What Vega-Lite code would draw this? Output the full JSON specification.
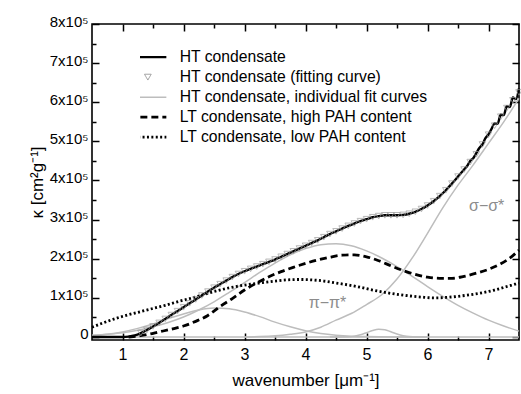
{
  "$schema": "https://vega.github.io/schema/vega-lite/v6.json",
  "width": 427,
  "height": 316,
  "autosize": {"type": "none"},
  "padding": {"left": 92, "top": 24, "right": 2, "bottom": 54},
  "config": {
    "view": {"stroke": "black", "strokeWidth": 1.6},
    "font": "Liberation Sans",
    "axis": {"grid": false, "domain": true, "domainOpacity": 0, "ticks": true, "tickOpacity": 1, "tickColor": "black", "tickWidth": 1.5, "labelColor": "black", "titleColor": "black", "labelFont": "Liberation Sans", "titleFont": "Liberation Sans", "titleFontWeight": "normal", "zindex": 1}
  },
  "datasets": {
    "curves": [
      {"x": 0.5, "v": 0, "s": "HT condensate, individual fit curves", "c": "z"},
      {"x": 7.5, "v": 0, "s": "HT condensate, individual fit curves", "c": "z"},
      {"x": 0.5, "v": 4500, "s": "HT condensate, individual fit curves", "c": "g1"},
      {"x": 0.75, "v": 7300, "s": "HT condensate, individual fit curves", "c": "g1"},
      {"x": 1.0, "v": 11000, "s": "HT condensate, individual fit curves", "c": "g1"},
      {"x": 1.25, "v": 17500, "s": "HT condensate, individual fit curves", "c": "g1"},
      {"x": 1.5, "v": 26000, "s": "HT condensate, individual fit curves", "c": "g1"},
      {"x": 1.75, "v": 37000, "s": "HT condensate, individual fit curves", "c": "g1"},
      {"x": 2.0, "v": 51000, "s": "HT condensate, individual fit curves", "c": "g1"},
      {"x": 2.25, "v": 69000, "s": "HT condensate, individual fit curves", "c": "g1"},
      {"x": 2.5, "v": 90000, "s": "HT condensate, individual fit curves", "c": "g1"},
      {"x": 2.75, "v": 114000, "s": "HT condensate, individual fit curves", "c": "g1"},
      {"x": 3.0, "v": 139000, "s": "HT condensate, individual fit curves", "c": "g1"},
      {"x": 3.25, "v": 165000, "s": "HT condensate, individual fit curves", "c": "g1"},
      {"x": 3.5, "v": 189000, "s": "HT condensate, individual fit curves", "c": "g1"},
      {"x": 3.75, "v": 210000, "s": "HT condensate, individual fit curves", "c": "g1"},
      {"x": 4.0, "v": 226000, "s": "HT condensate, individual fit curves", "c": "g1"},
      {"x": 4.25, "v": 236000, "s": "HT condensate, individual fit curves", "c": "g1"},
      {"x": 4.5, "v": 238000, "s": "HT condensate, individual fit curves", "c": "g1"},
      {"x": 4.75, "v": 233000, "s": "HT condensate, individual fit curves", "c": "g1"},
      {"x": 5.0, "v": 220000, "s": "HT condensate, individual fit curves", "c": "g1"},
      {"x": 5.25, "v": 202000, "s": "HT condensate, individual fit curves", "c": "g1"},
      {"x": 5.5, "v": 180000, "s": "HT condensate, individual fit curves", "c": "g1"},
      {"x": 5.75, "v": 155000, "s": "HT condensate, individual fit curves", "c": "g1"},
      {"x": 6.0, "v": 129000, "s": "HT condensate, individual fit curves", "c": "g1"},
      {"x": 6.25, "v": 104000, "s": "HT condensate, individual fit curves", "c": "g1"},
      {"x": 6.5, "v": 81000, "s": "HT condensate, individual fit curves", "c": "g1"},
      {"x": 6.75, "v": 61000, "s": "HT condensate, individual fit curves", "c": "g1"},
      {"x": 7.0, "v": 43000, "s": "HT condensate, individual fit curves", "c": "g1"},
      {"x": 7.25, "v": 28000, "s": "HT condensate, individual fit curves", "c": "g1"},
      {"x": 7.5, "v": 15000, "s": "HT condensate, individual fit curves", "c": "g1"},
      {"x": 0.5, "v": 3500, "s": "HT condensate, individual fit curves", "c": "g2"},
      {"x": 0.75, "v": 7000, "s": "HT condensate, individual fit curves", "c": "g2"},
      {"x": 1.0, "v": 13000, "s": "HT condensate, individual fit curves", "c": "g2"},
      {"x": 1.25, "v": 22000, "s": "HT condensate, individual fit curves", "c": "g2"},
      {"x": 1.5, "v": 33000, "s": "HT condensate, individual fit curves", "c": "g2"},
      {"x": 1.75, "v": 47000, "s": "HT condensate, individual fit curves", "c": "g2"},
      {"x": 2.0, "v": 59000, "s": "HT condensate, individual fit curves", "c": "g2"},
      {"x": 2.25, "v": 69000, "s": "HT condensate, individual fit curves", "c": "g2"},
      {"x": 2.5, "v": 74000, "s": "HT condensate, individual fit curves", "c": "g2"},
      {"x": 2.75, "v": 72000, "s": "HT condensate, individual fit curves", "c": "g2"},
      {"x": 3.0, "v": 64000, "s": "HT condensate, individual fit curves", "c": "g2"},
      {"x": 3.25, "v": 52000, "s": "HT condensate, individual fit curves", "c": "g2"},
      {"x": 3.5, "v": 38000, "s": "HT condensate, individual fit curves", "c": "g2"},
      {"x": 3.75, "v": 26000, "s": "HT condensate, individual fit curves", "c": "g2"},
      {"x": 4.0, "v": 16000, "s": "HT condensate, individual fit curves", "c": "g2"},
      {"x": 4.25, "v": 9000, "s": "HT condensate, individual fit curves", "c": "g2"},
      {"x": 4.5, "v": 4700, "s": "HT condensate, individual fit curves", "c": "g2"},
      {"x": 4.75, "v": 2200, "s": "HT condensate, individual fit curves", "c": "g2"},
      {"x": 5.0, "v": 1000, "s": "HT condensate, individual fit curves", "c": "g2"},
      {"x": 5.5, "v": 200, "s": "HT condensate, individual fit curves", "c": "g2"},
      {"x": 6.0, "v": 0, "s": "HT condensate, individual fit curves", "c": "g2"},
      {"x": 4.4, "v": 0, "s": "HT condensate, individual fit curves", "c": "g3"},
      {"x": 4.7, "v": 700, "s": "HT condensate, individual fit curves", "c": "g3"},
      {"x": 4.8, "v": 2200, "s": "HT condensate, individual fit curves", "c": "g3"},
      {"x": 4.9, "v": 5600, "s": "HT condensate, individual fit curves", "c": "g3"},
      {"x": 5.0, "v": 11000, "s": "HT condensate, individual fit curves", "c": "g3"},
      {"x": 5.1, "v": 16700, "s": "HT condensate, individual fit curves", "c": "g3"},
      {"x": 5.2, "v": 20000, "s": "HT condensate, individual fit curves", "c": "g3"},
      {"x": 5.3, "v": 18500, "s": "HT condensate, individual fit curves", "c": "g3"},
      {"x": 5.4, "v": 13300, "s": "HT condensate, individual fit curves", "c": "g3"},
      {"x": 5.5, "v": 7500, "s": "HT condensate, individual fit curves", "c": "g3"},
      {"x": 5.6, "v": 3300, "s": "HT condensate, individual fit curves", "c": "g3"},
      {"x": 5.7, "v": 1100, "s": "HT condensate, individual fit curves", "c": "g3"},
      {"x": 6.0, "v": 0, "s": "HT condensate, individual fit curves", "c": "g3"},
      {"x": 3.0, "v": 0, "s": "HT condensate, individual fit curves", "c": "s"},
      {"x": 3.25, "v": 1000, "s": "HT condensate, individual fit curves", "c": "s"},
      {"x": 3.5, "v": 3000, "s": "HT condensate, individual fit curves", "c": "s"},
      {"x": 3.75, "v": 7000, "s": "HT condensate, individual fit curves", "c": "s"},
      {"x": 4.0, "v": 13000, "s": "HT condensate, individual fit curves", "c": "s"},
      {"x": 4.25, "v": 25000, "s": "HT condensate, individual fit curves", "c": "s"},
      {"x": 4.5, "v": 43000, "s": "HT condensate, individual fit curves", "c": "s"},
      {"x": 4.75, "v": 60000, "s": "HT condensate, individual fit curves", "c": "s"},
      {"x": 5.0, "v": 83000, "s": "HT condensate, individual fit curves", "c": "s"},
      {"x": 5.25, "v": 108000, "s": "HT condensate, individual fit curves", "c": "s"},
      {"x": 5.5, "v": 148000, "s": "HT condensate, individual fit curves", "c": "s"},
      {"x": 5.75, "v": 202000, "s": "HT condensate, individual fit curves", "c": "s"},
      {"x": 6.0, "v": 265000, "s": "HT condensate, individual fit curves", "c": "s"},
      {"x": 6.25, "v": 330000, "s": "HT condensate, individual fit curves", "c": "s"},
      {"x": 6.5, "v": 388000, "s": "HT condensate, individual fit curves", "c": "s"},
      {"x": 6.75, "v": 440000, "s": "HT condensate, individual fit curves", "c": "s"},
      {"x": 7.0, "v": 495000, "s": "HT condensate, individual fit curves", "c": "s"},
      {"x": 7.25, "v": 550000, "s": "HT condensate, individual fit curves", "c": "s"},
      {"x": 7.5, "v": 610000, "s": "HT condensate, individual fit curves", "c": "s"},
      {"x": 0.5, "v": 25000, "s": "LT condensate, low PAH content", "c": "e"},
      {"x": 0.7, "v": 37000, "s": "LT condensate, low PAH content", "c": "e"},
      {"x": 0.9, "v": 48000, "s": "LT condensate, low PAH content", "c": "e"},
      {"x": 1.1, "v": 57000, "s": "LT condensate, low PAH content", "c": "e"},
      {"x": 1.3, "v": 65000, "s": "LT condensate, low PAH content", "c": "e"},
      {"x": 1.5, "v": 73000, "s": "LT condensate, low PAH content", "c": "e"},
      {"x": 1.7, "v": 81000, "s": "LT condensate, low PAH content", "c": "e"},
      {"x": 1.9, "v": 90000, "s": "LT condensate, low PAH content", "c": "e"},
      {"x": 2.1, "v": 98000, "s": "LT condensate, low PAH content", "c": "e"},
      {"x": 2.3, "v": 107000, "s": "LT condensate, low PAH content", "c": "e"},
      {"x": 2.5, "v": 116000, "s": "LT condensate, low PAH content", "c": "e"},
      {"x": 2.7, "v": 124000, "s": "LT condensate, low PAH content", "c": "e"},
      {"x": 2.9, "v": 130000, "s": "LT condensate, low PAH content", "c": "e"},
      {"x": 3.1, "v": 135000, "s": "LT condensate, low PAH content", "c": "e"},
      {"x": 3.3, "v": 139000, "s": "LT condensate, low PAH content", "c": "e"},
      {"x": 3.5, "v": 143000, "s": "LT condensate, low PAH content", "c": "e"},
      {"x": 3.7, "v": 146000, "s": "LT condensate, low PAH content", "c": "e"},
      {"x": 3.9, "v": 147000, "s": "LT condensate, low PAH content", "c": "e"},
      {"x": 4.1, "v": 146000, "s": "LT condensate, low PAH content", "c": "e"},
      {"x": 4.3, "v": 143000, "s": "LT condensate, low PAH content", "c": "e"},
      {"x": 4.5, "v": 138000, "s": "LT condensate, low PAH content", "c": "e"},
      {"x": 4.7, "v": 133000, "s": "LT condensate, low PAH content", "c": "e"},
      {"x": 4.9, "v": 127000, "s": "LT condensate, low PAH content", "c": "e"},
      {"x": 5.1, "v": 120000, "s": "LT condensate, low PAH content", "c": "e"},
      {"x": 5.3, "v": 114000, "s": "LT condensate, low PAH content", "c": "e"},
      {"x": 5.5, "v": 109000, "s": "LT condensate, low PAH content", "c": "e"},
      {"x": 5.7, "v": 105000, "s": "LT condensate, low PAH content", "c": "e"},
      {"x": 5.9, "v": 102000, "s": "LT condensate, low PAH content", "c": "e"},
      {"x": 6.1, "v": 100000, "s": "LT condensate, low PAH content", "c": "e"},
      {"x": 6.3, "v": 101000, "s": "LT condensate, low PAH content", "c": "e"},
      {"x": 6.5, "v": 104000, "s": "LT condensate, low PAH content", "c": "e"},
      {"x": 6.7, "v": 108000, "s": "LT condensate, low PAH content", "c": "e"},
      {"x": 6.9, "v": 113000, "s": "LT condensate, low PAH content", "c": "e"},
      {"x": 7.1, "v": 120000, "s": "LT condensate, low PAH content", "c": "e"},
      {"x": 7.3, "v": 129000, "s": "LT condensate, low PAH content", "c": "e"},
      {"x": 7.5, "v": 138000, "s": "LT condensate, low PAH content", "c": "e"},
      {"x": 1.1, "v": 0, "s": "LT condensate, high PAH content", "c": "d"},
      {"x": 1.4, "v": 6000, "s": "LT condensate, high PAH content", "c": "d"},
      {"x": 1.6, "v": 13000, "s": "LT condensate, high PAH content", "c": "d"},
      {"x": 1.8, "v": 20000, "s": "LT condensate, high PAH content", "c": "d"},
      {"x": 2.0, "v": 28000, "s": "LT condensate, high PAH content", "c": "d"},
      {"x": 2.2, "v": 40000, "s": "LT condensate, high PAH content", "c": "d"},
      {"x": 2.4, "v": 55000, "s": "LT condensate, high PAH content", "c": "d"},
      {"x": 2.6, "v": 78000, "s": "LT condensate, high PAH content", "c": "d"},
      {"x": 2.8, "v": 98000, "s": "LT condensate, high PAH content", "c": "d"},
      {"x": 3.0, "v": 120000, "s": "LT condensate, high PAH content", "c": "d"},
      {"x": 3.2, "v": 138000, "s": "LT condensate, high PAH content", "c": "d"},
      {"x": 3.4, "v": 154000, "s": "LT condensate, high PAH content", "c": "d"},
      {"x": 3.6, "v": 167000, "s": "LT condensate, high PAH content", "c": "d"},
      {"x": 3.8, "v": 178000, "s": "LT condensate, high PAH content", "c": "d"},
      {"x": 4.0, "v": 188000, "s": "LT condensate, high PAH content", "c": "d"},
      {"x": 4.2, "v": 197000, "s": "LT condensate, high PAH content", "c": "d"},
      {"x": 4.4, "v": 204000, "s": "LT condensate, high PAH content", "c": "d"},
      {"x": 4.6, "v": 209000, "s": "LT condensate, high PAH content", "c": "d"},
      {"x": 4.8, "v": 210000, "s": "LT condensate, high PAH content", "c": "d"},
      {"x": 5.0, "v": 205000, "s": "LT condensate, high PAH content", "c": "d"},
      {"x": 5.2, "v": 195000, "s": "LT condensate, high PAH content", "c": "d"},
      {"x": 5.4, "v": 182000, "s": "LT condensate, high PAH content", "c": "d"},
      {"x": 5.6, "v": 170000, "s": "LT condensate, high PAH content", "c": "d"},
      {"x": 5.8, "v": 160000, "s": "LT condensate, high PAH content", "c": "d"},
      {"x": 6.0, "v": 153000, "s": "LT condensate, high PAH content", "c": "d"},
      {"x": 6.2, "v": 150000, "s": "LT condensate, high PAH content", "c": "d"},
      {"x": 6.4, "v": 150000, "s": "LT condensate, high PAH content", "c": "d"},
      {"x": 6.6, "v": 155000, "s": "LT condensate, high PAH content", "c": "d"},
      {"x": 6.8, "v": 163000, "s": "LT condensate, high PAH content", "c": "d"},
      {"x": 7.0, "v": 173000, "s": "LT condensate, high PAH content", "c": "d"},
      {"x": 7.2, "v": 187000, "s": "LT condensate, high PAH content", "c": "d"},
      {"x": 7.4, "v": 208000, "s": "LT condensate, high PAH content", "c": "d"},
      {"x": 7.5, "v": 222000, "s": "LT condensate, high PAH content", "c": "d"},
      {"x": 0.5, "v": 0, "s": "HT condensate", "c": "a"},
      {"x": 1.0, "v": 0, "s": "HT condensate", "c": "a"},
      {"x": 1.1, "v": 1000, "s": "HT condensate", "c": "a"},
      {"x": 1.2, "v": 4000, "s": "HT condensate", "c": "a"},
      {"x": 1.3, "v": 10000, "s": "HT condensate", "c": "a"},
      {"x": 1.4, "v": 18000, "s": "HT condensate", "c": "a"},
      {"x": 1.5, "v": 27000, "s": "HT condensate", "c": "a"},
      {"x": 1.6, "v": 36000, "s": "HT condensate", "c": "a"},
      {"x": 1.7, "v": 46000, "s": "HT condensate", "c": "a"},
      {"x": 1.8, "v": 56000, "s": "HT condensate", "c": "a"},
      {"x": 1.9, "v": 66000, "s": "HT condensate", "c": "a"},
      {"x": 2.0, "v": 76000, "s": "HT condensate", "c": "a"},
      {"x": 2.1, "v": 86000, "s": "HT condensate", "c": "a"},
      {"x": 2.2, "v": 96000, "s": "HT condensate", "c": "a"},
      {"x": 2.3, "v": 106000, "s": "HT condensate", "c": "a"},
      {"x": 2.4, "v": 116000, "s": "HT condensate", "c": "a"},
      {"x": 2.5, "v": 126000, "s": "HT condensate", "c": "a"},
      {"x": 2.6, "v": 135000, "s": "HT condensate", "c": "a"},
      {"x": 2.7, "v": 144000, "s": "HT condensate", "c": "a"},
      {"x": 2.8, "v": 153000, "s": "HT condensate", "c": "a"},
      {"x": 2.9, "v": 161000, "s": "HT condensate", "c": "a"},
      {"x": 3.0, "v": 168000, "s": "HT condensate", "c": "a"},
      {"x": 3.1, "v": 174000, "s": "HT condensate", "c": "a"},
      {"x": 3.2, "v": 180000, "s": "HT condensate", "c": "a"},
      {"x": 3.3, "v": 186000, "s": "HT condensate", "c": "a"},
      {"x": 3.4, "v": 192000, "s": "HT condensate", "c": "a"},
      {"x": 3.5, "v": 198000, "s": "HT condensate", "c": "a"},
      {"x": 3.6, "v": 205000, "s": "HT condensate", "c": "a"},
      {"x": 3.7, "v": 212000, "s": "HT condensate", "c": "a"},
      {"x": 3.8, "v": 219000, "s": "HT condensate", "c": "a"},
      {"x": 3.9, "v": 226000, "s": "HT condensate", "c": "a"},
      {"x": 4.0, "v": 233000, "s": "HT condensate", "c": "a"},
      {"x": 4.1, "v": 240000, "s": "HT condensate", "c": "a"},
      {"x": 4.2, "v": 247000, "s": "HT condensate", "c": "a"},
      {"x": 4.3, "v": 255000, "s": "HT condensate", "c": "a"},
      {"x": 4.4, "v": 263000, "s": "HT condensate", "c": "a"},
      {"x": 4.5, "v": 270000, "s": "HT condensate", "c": "a"},
      {"x": 4.6, "v": 277000, "s": "HT condensate", "c": "a"},
      {"x": 4.7, "v": 284000, "s": "HT condensate", "c": "a"},
      {"x": 4.8, "v": 290000, "s": "HT condensate", "c": "a"},
      {"x": 4.9, "v": 296000, "s": "HT condensate", "c": "a"},
      {"x": 5.0, "v": 301000, "s": "HT condensate", "c": "a"},
      {"x": 5.1, "v": 306000, "s": "HT condensate", "c": "a"},
      {"x": 5.2, "v": 309000, "s": "HT condensate", "c": "a"},
      {"x": 5.3, "v": 311000, "s": "HT condensate", "c": "a"},
      {"x": 5.4, "v": 311000, "s": "HT condensate", "c": "a"},
      {"x": 5.5, "v": 311000, "s": "HT condensate", "c": "a"},
      {"x": 5.6, "v": 312000, "s": "HT condensate", "c": "a"},
      {"x": 5.7, "v": 315000, "s": "HT condensate", "c": "a"},
      {"x": 5.8, "v": 320000, "s": "HT condensate", "c": "a"},
      {"x": 5.9, "v": 327000, "s": "HT condensate", "c": "a"},
      {"x": 6.0, "v": 336000, "s": "HT condensate", "c": "a"},
      {"x": 6.1, "v": 347000, "s": "HT condensate", "c": "a"},
      {"x": 6.2, "v": 360000, "s": "HT condensate", "c": "a"},
      {"x": 6.3, "v": 375000, "s": "HT condensate", "c": "a"},
      {"x": 6.4, "v": 392000, "s": "HT condensate", "c": "a"},
      {"x": 6.5, "v": 410000, "s": "HT condensate", "c": "a"},
      {"x": 6.6, "v": 428000, "s": "HT condensate", "c": "a"},
      {"x": 6.65, "v": 437000, "s": "HT condensate", "c": "a"},
      {"x": 6.7, "v": 450000, "s": "HT condensate", "c": "a"},
      {"x": 6.75, "v": 457000, "s": "HT condensate", "c": "a"},
      {"x": 6.8, "v": 470000, "s": "HT condensate", "c": "a"},
      {"x": 6.85, "v": 483000, "s": "HT condensate", "c": "a"},
      {"x": 6.9, "v": 492000, "s": "HT condensate", "c": "a"},
      {"x": 6.95, "v": 508000, "s": "HT condensate", "c": "a"},
      {"x": 7.0, "v": 518000, "s": "HT condensate", "c": "a"},
      {"x": 7.05, "v": 532000, "s": "HT condensate", "c": "a"},
      {"x": 7.1, "v": 546000, "s": "HT condensate", "c": "a"},
      {"x": 7.15, "v": 545000, "s": "HT condensate", "c": "a"},
      {"x": 7.2, "v": 568000, "s": "HT condensate", "c": "a"},
      {"x": 7.25, "v": 567000, "s": "HT condensate", "c": "a"},
      {"x": 7.3, "v": 590000, "s": "HT condensate", "c": "a"},
      {"x": 7.35, "v": 588000, "s": "HT condensate", "c": "a"},
      {"x": 7.4, "v": 612000, "s": "HT condensate", "c": "a"},
      {"x": 7.45, "v": 608000, "s": "HT condensate", "c": "a"},
      {"x": 7.5, "v": 635000, "s": "HT condensate", "c": "a"}
    ],
    "fit": [
      {"x": 1.3, "v": 10000}, {"x": 1.4, "v": 18000}, {"x": 1.5, "v": 27000}, {"x": 1.6, "v": 36000},
      {"x": 1.7, "v": 46000}, {"x": 1.8, "v": 56000}, {"x": 1.9, "v": 66000}, {"x": 2.0, "v": 76000},
      {"x": 2.1, "v": 86000}, {"x": 2.2, "v": 96000}, {"x": 2.3, "v": 106000}, {"x": 2.4, "v": 116000},
      {"x": 2.5, "v": 126000}, {"x": 2.6, "v": 135000}, {"x": 2.7, "v": 144000}, {"x": 2.8, "v": 153000},
      {"x": 2.9, "v": 161000}, {"x": 3.0, "v": 168000}, {"x": 3.1, "v": 174000}, {"x": 3.2, "v": 180000},
      {"x": 3.3, "v": 186000}, {"x": 3.4, "v": 192000}, {"x": 3.5, "v": 198000}, {"x": 3.6, "v": 205000},
      {"x": 3.7, "v": 212000}, {"x": 3.8, "v": 219000}, {"x": 3.9, "v": 226000}, {"x": 4.0, "v": 233000},
      {"x": 4.1, "v": 240000}, {"x": 4.2, "v": 247000}, {"x": 4.3, "v": 255000}, {"x": 4.4, "v": 263000},
      {"x": 4.5, "v": 270000}, {"x": 4.6, "v": 277000}, {"x": 4.7, "v": 284000}, {"x": 4.8, "v": 290000},
      {"x": 4.9, "v": 296000}, {"x": 5.0, "v": 301000}, {"x": 5.1, "v": 306000}, {"x": 5.2, "v": 309000},
      {"x": 5.3, "v": 311000}, {"x": 5.4, "v": 311000}, {"x": 5.5, "v": 311000}, {"x": 5.6, "v": 312000},
      {"x": 5.7, "v": 315000}, {"x": 5.8, "v": 320000}, {"x": 5.9, "v": 327000}, {"x": 6.0, "v": 336000},
      {"x": 6.1, "v": 347000}, {"x": 6.2, "v": 360000}, {"x": 6.3, "v": 375000}, {"x": 6.4, "v": 392000},
      {"x": 6.5, "v": 410000}, {"x": 6.6, "v": 428000}, {"x": 6.7, "v": 447000}, {"x": 6.8, "v": 467000},
      {"x": 6.9, "v": 492000}, {"x": 7.0, "v": 517000}, {"x": 7.1, "v": 540000}, {"x": 7.2, "v": 563000},
      {"x": 7.3, "v": 585000}, {"x": 7.4, "v": 605000}, {"x": 7.5, "v": 625000}
    ],
    "notes": [
      {"x": 4.36, "v": 87000, "t": "π−π*"},
      {"x": 6.97, "v": 335000, "t": "σ−σ*"}
    ]
  },
  "resolve": {"axis": {"x": "independent", "y": "independent"}},
  "layer": [
    {
      "data": {"name": "curves"},
      "transform": [{"filter": "datum.s === 'HT condensate, individual fit curves'"}],
      "mark": {"type": "line", "interpolate": "monotone", "strokeWidth": 1.5},
      "encoding": {
        "x": {"field": "x", "type": "quantitative", "scale": {"domain": [0.5, 7.5], "nice": false, "zero": false},
          "axis": {"orient": "bottom", "values": [1, 2, 3, 4, 5, 6, 7], "format": "d", "offset": -7, "tickSize": 7, "ticks": true, "tickColor": "black",
            "labelFontSize": 16, "labelPadding": 6, "title": "wavenumber [μm⁻¹]", "titleFontSize": 17, "titlePadding": 10}},
        "y": {"field": "v", "type": "quantitative", "scale": {"domain": [-7700, 800000], "nice": false, "zero": false},
          "axis": {"orient": "left", "values": [0, 100000, 200000, 300000, 400000, 500000, 600000, 700000, 800000], "offset": -7, "tickSize": 7, "ticks": true, "tickColor": "black",
            "labelExpr": "datum.value === 0 ? '0' : format(datum.value / 100000, 'd') + 'x10⁵'",
            "labelFontSize": 15, "labelPadding": 4, "labelOffset": -3, "title": "κ [cm²g⁻¹]", "titleFontSize": 17, "titlePadding": 3}},
        "color": {"field": "s", "type": "nominal",
          "scale": {"domain": ["HT condensate", "HT condensate (fitting curve)", "HT condensate, individual fit curves", "LT condensate, high PAH content", "LT condensate, low PAH content"],
            "range": ["black", "#999999", "#bdbdbd", "black", "black"]},
          "legend": {"orient": "none", "legendX": 48, "legendY": 23.6, "title": null, "padding": 0, "labelFontSize": 15.7, "labelFont": "Liberation Sans", "labelColor": "black", "labelLimit": 0, "labelOffset": 24, "symbolType": "stroke", "symbolSize": 1369, "clipHeight": 19.1, "rowPadding": 0,
            "encode": {"symbols": {"update": {
              "shape": {"signal": "datum.value === 'HT condensate (fitting curve)' ? 'triangle-down' : 'stroke'"},
              "size": {"signal": "datum.value === 'HT condensate (fitting curve)' ? 45 : 1369"},
              "strokeWidth": {"signal": "datum.value === 'HT condensate (fitting curve)' ? 1 : datum.value === 'HT condensate, individual fit curves' ? 1.5 : datum.value === 'HT condensate' ? 2.4 : 2.8"},
              "strokeDash": {"signal": "datum.value === 'LT condensate, high PAH content' ? [7, 4] : datum.value === 'LT condensate, low PAH content' ? [2, 2.4] : [1, 0]"},
              "fill": {"value": "transparent"}}}}}},
        "detail": {"field": "c", "type": "nominal"}
      }
    },
    {
      "data": {"name": "curves"},
      "transform": [{"filter": "datum.s === 'LT condensate, low PAH content'"}],
      "mark": {"type": "line", "interpolate": "monotone", "strokeWidth": 2.8, "strokeDash": [2, 2.4]},
      "encoding": {
        "x": {"field": "x", "type": "quantitative", "scale": {"domain": [0.5, 7.5], "nice": false, "zero": false},
          "axis": {"orient": "top", "values": [1, 2, 3, 4, 5, 6, 7], "offset": -7, "tickSize": 7, "ticks": true, "tickColor": "black", "labels": false, "title": null}},
        "y": {"field": "v", "type": "quantitative", "scale": {"domain": [-7700, 800000], "nice": false, "zero": false},
          "axis": {"orient": "right", "values": [0, 100000, 200000, 300000, 400000, 500000, 600000, 700000, 800000], "offset": -7, "tickSize": 7, "ticks": true, "tickColor": "black", "labels": false, "title": null}},
        "color": {"field": "s", "type": "nominal"}
      }
    },
    {
      "data": {"name": "curves"},
      "transform": [{"filter": "datum.s === 'LT condensate, high PAH content'"}],
      "mark": {"type": "line", "interpolate": "monotone", "strokeWidth": 2.8, "strokeDash": [7, 4]},
      "encoding": {
        "x": {"field": "x", "type": "quantitative", "scale": {"domain": [0.5, 7.5], "nice": false, "zero": false},
          "axis": {"orient": "bottom", "values": [1.5, 2.5, 3.5, 4.5, 5.5, 6.5], "offset": -4, "tickSize": 4, "ticks": true, "tickColor": "black", "labels": false, "title": null}},
        "y": {"field": "v", "type": "quantitative", "scale": {"domain": [-7700, 800000], "nice": false, "zero": false},
          "axis": {"orient": "left", "values": [50000, 150000, 250000, 350000, 450000, 550000, 650000, 750000], "offset": -4, "tickSize": 4, "ticks": true, "tickColor": "black", "labels": false, "title": null}},
        "color": {"field": "s", "type": "nominal"}
      }
    },
    {
      "data": {"name": "curves"},
      "transform": [{"filter": "datum.s === 'HT condensate'"}],
      "mark": {"type": "line", "interpolate": "monotone", "strokeWidth": 2.4},
      "encoding": {
        "x": {"field": "x", "type": "quantitative", "scale": {"domain": [0.5, 7.5], "nice": false, "zero": false},
          "axis": {"orient": "top", "values": [1.5, 2.5, 3.5, 4.5, 5.5, 6.5], "offset": -4, "tickSize": 4, "ticks": true, "tickColor": "black", "labels": false, "title": null}},
        "y": {"field": "v", "type": "quantitative", "scale": {"domain": [-7700, 800000], "nice": false, "zero": false},
          "axis": {"orient": "right", "values": [50000, 150000, 250000, 350000, 450000, 550000, 650000, 750000], "offset": -4, "tickSize": 4, "ticks": true, "tickColor": "black", "labels": false, "title": null}},
        "color": {"field": "s", "type": "nominal"}
      }
    },
    {
      "data": {"name": "fit"},
      "mark": {"type": "point", "shape": "triangle-down", "filled": false, "size": 42, "strokeWidth": 1},
      "encoding": {
        "x": {"field": "x", "type": "quantitative", "axis": null},
        "y": {"field": "v", "type": "quantitative", "axis": null},
        "color": {"datum": "HT condensate (fitting curve)", "type": "nominal"}
      }
    },
    {
      "data": {"name": "notes"},
      "mark": {"type": "text", "fontSize": 16, "color": "#8c8c8c", "font": "Liberation Sans"},
      "encoding": {
        "x": {"field": "x", "type": "quantitative", "axis": null},
        "y": {"field": "v", "type": "quantitative", "axis": null},
        "text": {"field": "t"}
      }
    }
  ]
}
